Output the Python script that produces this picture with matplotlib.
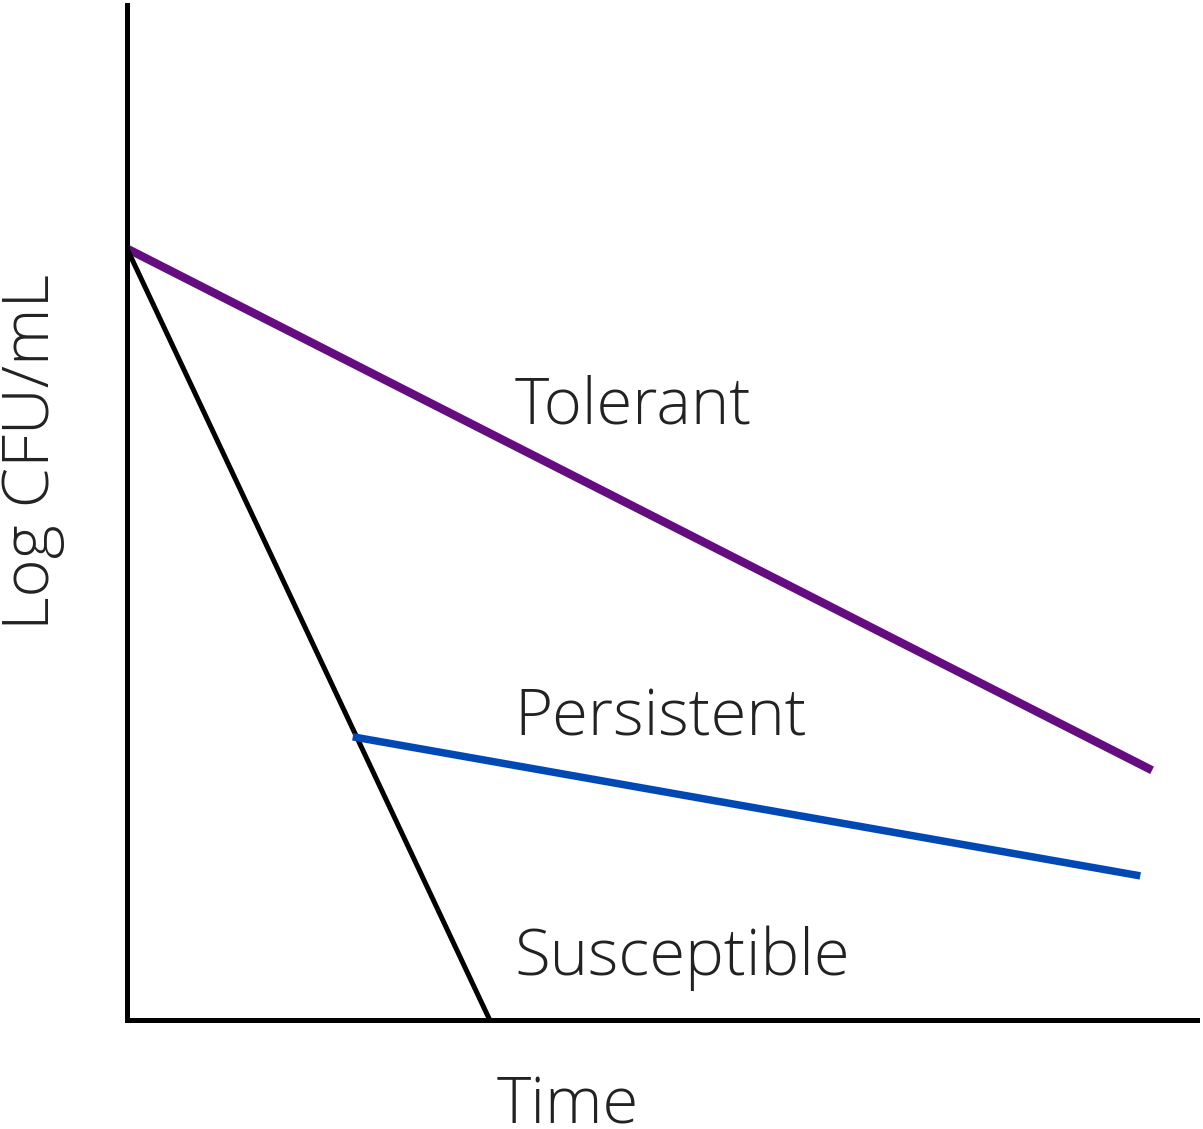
import matplotlib
matplotlib.use("Agg")
import matplotlib.pyplot as plt

plt.rcParams['font.family'] = ['Open Sans', 'DejaVu Sans']

# time-kill curves (arbitrary units)
tolerant_t = [0.0, 9.58]
tolerant_y = [7.6, 2.46]

susceptible_t = [0.0, 3.39]
susceptible_y = [7.6, 0.0]

persistent_t = [2.11, 9.47]
persistent_y = [2.79, 1.42]

labels = ["Tolerant", "Persistent", "Susceptible"]
label_x = [3.62, 3.62, 3.62]
label_y = [5.88, 2.80, 0.44]

W, H = 1203, 1129
fig = plt.figure(figsize=(W / 100, H / 100), dpi=100)
ax = fig.add_axes([127 / W, (H - 1020) / H, (1197 - 127) / W, (1020 - 5) / H])
ax.set_xlim(0, 10)
ax.set_ylim(0, 10)

ax.plot(tolerant_t, tolerant_y, color='#650d80', lw=6.0, solid_capstyle='butt')
ax.plot(susceptible_t, susceptible_y, color='black', lw=3.6, solid_capstyle='butt')
ax.plot(persistent_t, persistent_y, color='#0049b5', lw=5.4, solid_capstyle='butt')

fs = 47
for txt, x, y in zip(labels, label_x, label_y):
    ax.text(x, y, txt, fontsize=fs, fontweight='light', ha='left', va='baseline', color='#222222')

for s in ['top', 'right']:
    ax.spines[s].set_visible(False)
for s in ['left', 'bottom']:
    ax.spines[s].set_linewidth(3.6)
ax.set_xticks([])
ax.set_yticks([])

fig.text(497 / W, 5 / H, "Time", fontsize=fs, fontweight='light', ha='left', va='baseline', color='#222222')
fig.text(49 / W, (H - 452) / H, "Log CFU/mL", fontsize=fs, fontweight='light', rotation=90,
         rotation_mode='anchor', ha='center', va='baseline', color='#222222')

fig.savefig("out.png", dpi=100)
